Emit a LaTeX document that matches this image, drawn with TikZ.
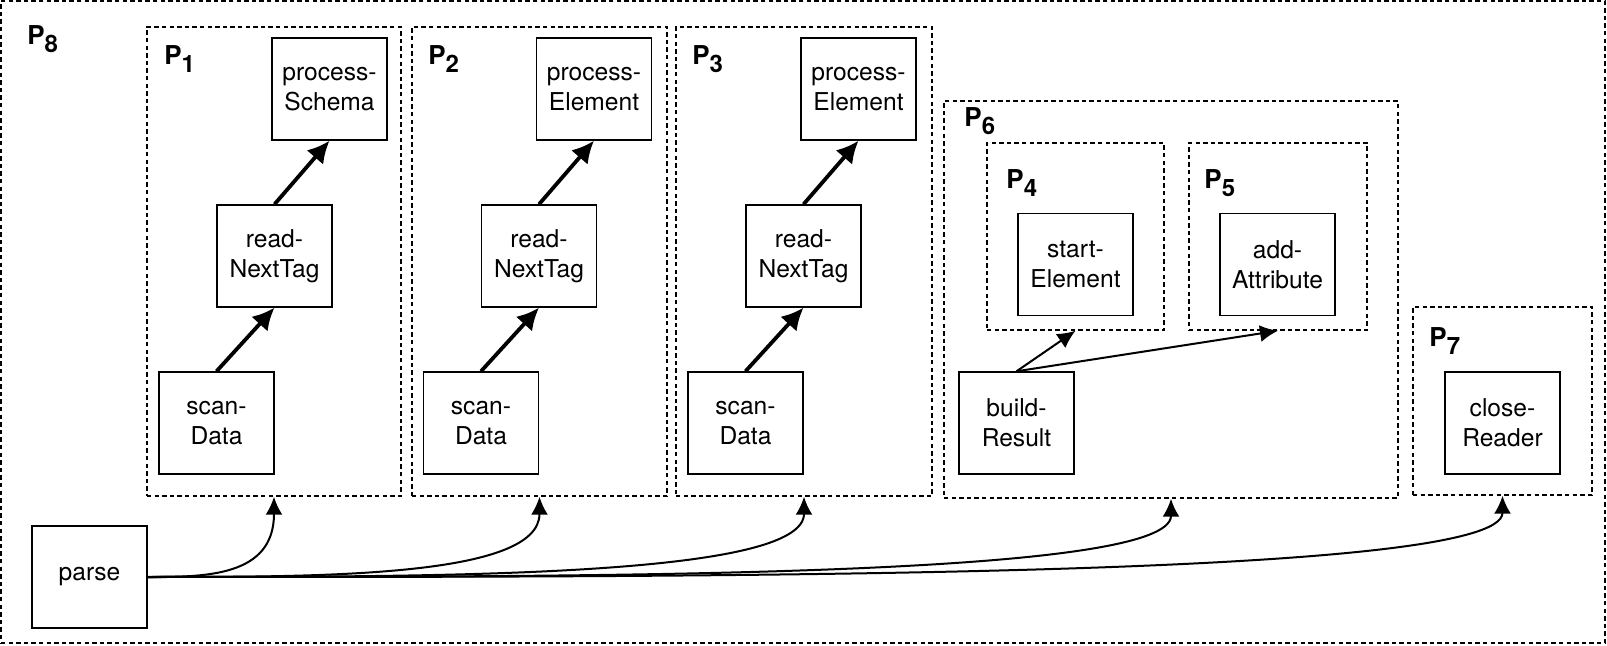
\documentclass[tikz,border=0pt]{standalone}
\usepackage{fontspec}
\setmainfont{TeX Gyre Heros}
\usetikzlibrary{%
  arrows.meta,%
  positioning,%
  calc,%
  fit%
}
\newcommand{\plab}[1]{{\fontsize{13}{14}\selectfont\bfseries P\raisebox{-3.8pt}{\fontsize{12}{12}\selectfont #1}}}

\begin{document}
\begin{tikzpicture}[x=0.5pt, y=-0.5pt,
  every node/.style = {inner sep=0pt},
  func/.style = {draw, line width=0.7pt, minimum width=57.5pt,
    minimum height=51pt, align=center,
    font=\fontsize{12.3}{15}\selectfont},
  grp/.style = {draw, dashed, dash pattern=on 2.2pt off 1.6pt,
    line width=0.75pt},
  plabel/.style = {anchor=base west},
  bigarrow/.style = {line width=1.9pt, -{Latex[length=11pt, width=11pt]}},
  call/.style = {line width=1pt, -{Latex[length=9pt, width=8.5pt]}},
  small/.style = {line width=1pt, -{Latex[length=9pt, width=8.5pt]}}]

  \useasboundingbox (0,0) rectangle (1607,646);

  % the whole program
  \node[grp, fit={(1,1) (1605,643)}] (p8) {};
  \node[plabel] at (27,45) {\plab{8}};

  % P1
  \node[grp, fit={(147,27) (401,496)}] (p1) {};
  \node[plabel] at (164,65) {\plab{1}};
  \node[func] (schema1) at (329.5,89) {process-\\Schema};
  \node[func] (read1) at (274.5,256) {read-\\NextTag};
  \node[func] (scan1) at (216.5,423) {scan-\\Data};
  \draw[bigarrow] (scan1.north) -- (read1.south);
  \draw[bigarrow] (read1.north) -- (schema1.south);

  % P2
  \node[grp, fit={(412,27) (667,496)}] (p2) {};
  \node[plabel] at (428,65) {\plab{2}};
  \node[func] (elem2) at (594,89) {process-\\Element};
  \node[func] (read2) at (539,256) {read-\\NextTag};
  \node[func] (scan2) at (481,423) {scan-\\Data};
  \draw[bigarrow] (scan2.north) -- (read2.south);
  \draw[bigarrow] (read2.north) -- (elem2.south);

  % P3
  \node[grp, fit={(676,27) (932,496)}] (p3) {};
  \node[plabel] at (692,65) {\plab{3}};
  \node[func] (elem3) at (858.5,89) {process-\\Element};
  \node[func] (read3) at (803.5,256) {read-\\NextTag};
  \node[func] (scan3) at (745.5,423) {scan-\\Data};
  \draw[bigarrow] (scan3.north) -- (read3.south);
  \draw[bigarrow] (read3.north) -- (elem3.south);

  % P6 with P4 and P5
  \node[grp, fit={(944,101) (1398,498)}] (p6) {};
  \node[plabel] at (964,127) {\plab{6}};
  \node[grp, fit={(987,143) (1164,330)}] (p4) {};
  \node[plabel] at (1006,189) {\plab{4}};
  \node[grp, fit={(1189,143) (1367,330)}] (p5) {};
  \node[plabel] at (1204,189) {\plab{5}};
  \node[func] (start) at (1075.5,264.5) {start-\\Element};
  \node[func] (attr) at (1277.5,264.5) {add-\\Attribute};
  \node[func] (build) at (1016.5,423) {build-\\Result};
  \draw[small] (build.north) -- (p4.south);
  \draw[small] (build.north) -- (p5.south);

  % P7
  \node[grp, fit={(1413,307) (1592,495)}] (p7) {};
  \node[plabel] at (1429,347) {\plab{7}};
  \node[func] (close) at (1502.5,423) {close-\\Reader};

  % parse calls
  \node[func] (parse) at (89.5,577) {parse};
  \foreach \g in {p1,p2,p3,p6,p7}
    \draw[call] (parse.east)
      .. controls ($(parse.east)!0.45!(parse.east -| \g.south)$)
      and (parse.east -| \g.south) .. (\g.south);
\end{tikzpicture}
\end{document}
